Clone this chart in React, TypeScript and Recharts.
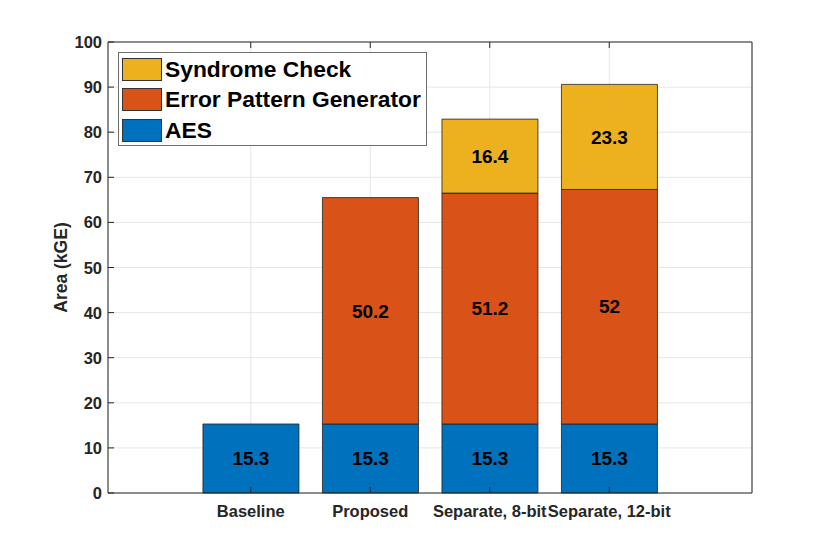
import { Bar, BarChart, CartesianGrid, LabelList, XAxis, YAxis } from "recharts";

const categories = ["Baseline", "Proposed", "Separate, 8-bit", "Separate, 12-bit"];
const aes = [15.3, 15.3, 15.3, 15.3];
const errorPattern = [null, 50.2, 51.2, 52];
const syndrome = [null, null, 16.4, 23.3];
const yTicks = [0, 10, 20, 30, 40, 50, 60, 70, 80, 90, 100];

const series = [
  { key: "syndrome", name: "Syndrome Check", color: "#EDB120" },
  { key: "errorPattern", name: "Error Pattern Generator", color: "#D95319" },
  { key: "aes", name: "AES", color: "#0072BD" },
];

const data = categories.map((name, i) => ({
  name,
  aes: aes[i],
  errorPattern: errorPattern[i],
  syndrome: syndrome[i],
}));

const FONT = '"Liberation Sans", Arial, Helvetica, sans-serif';
const AXIS = "#262626";
const TICK_LEN = 6;

function BottomTick({ x, y, payload }: any) {
  return (
    <g>
      <line x1={x} y1={y} x2={x} y2={y - TICK_LEN} stroke={AXIS} />
      <text x={x} y={y + 24} textAnchor="middle" fill={AXIS} fontSize={16.5} fontWeight="bold" fontFamily={FONT}>
        {payload.value}
      </text>
    </g>
  );
}

function TopTick({ x, y }: any) {
  return <line x1={x} y1={y} x2={x} y2={y + TICK_LEN} stroke={AXIS} />;
}

function LeftTick({ x, y, payload }: any) {
  return (
    <g>
      <line x1={x} y1={y} x2={x + TICK_LEN} y2={y} stroke={AXIS} />
      <text x={x - 6} y={y} dy={6} textAnchor="end" fill={AXIS} fontSize={16.5} fontWeight="bold" fontFamily={FONT}>
        {payload.value}
      </text>
    </g>
  );
}

function RightTick({ x, y }: any) {
  return <line x1={x} y1={y} x2={x - TICK_LEN} y2={y} stroke={AXIS} />;
}

function Legend() {
  return (
    <div
      style={{
        position: "absolute",
        left: 110,
        top: 44,
        width: 307,
        height: 92,
        border: "1px solid #6e6e6e",
        background: "#fff",
        fontFamily: FONT,
      }}
    >
      {series.map((s, i) => (
        <div key={s.key} style={{ position: "absolute", left: 3, top: 5 + i * 30.4, height: 23, display: "flex", alignItems: "center" }}>
          <div style={{ width: 38, height: 21, background: s.color, border: "1px solid #333" }} />
          <span style={{ marginLeft: 3, fontSize: 22.8, fontWeight: "bold", color: "#000", lineHeight: "23px", whiteSpace: "nowrap" }}>
            {s.name}
          </span>
        </div>
      ))}
    </div>
  );
}

export default function App() {
  return (
    <div style={{ position: "relative", width: 822, height: 546, fontFamily: FONT }}>
      <BarChart
        width={822}
        height={546}
        data={data}
        margin={{ top: 33, right: 70, bottom: 0, left: 40 }}
        barCategoryGap="10%"
      >
        <CartesianGrid stroke="#e6e6e6" />
        <XAxis
          dataKey="name"
          height={61}
          padding={{ left: 83, right: 83 }}
          interval={0}
          tickSize={0}
          tickMargin={0}
          axisLine={{ stroke: AXIS }}
          tickLine={false}
          tick={<BottomTick />}
        />
        <XAxis
          xAxisId="top"
          orientation="top"
          dataKey="name"
          height={1}
          padding={{ left: 83, right: 83 }}
          interval={0}
          tickSize={0}
          tickMargin={0}
          axisLine={{ stroke: AXIS }}
          tickLine={false}
          tick={<TopTick />}
        />
        <YAxis
          width={60}
          domain={[0, 100]}
          ticks={yTicks}
          interval={0}
          tickSize={0}
          tickMargin={0}
          axisLine={{ stroke: AXIS }}
          tickLine={false}
          tick={<LeftTick />}
          label={{
            content: ({ viewBox }: any) => (
              <text
                x={viewBox.x + 19}
                y={viewBox.y + viewBox.height / 2}
                transform={`rotate(-90 ${viewBox.x + 19} ${viewBox.y + viewBox.height / 2})`}
                textAnchor="middle"
                fill={AXIS}
                fontSize={17.5}
                fontWeight="bold"
                fontFamily={FONT}
              >
                Area (kGE)
              </text>
            ),
          }}
        />
        <YAxis
          yAxisId="right"
          orientation="right"
          width={8}
          domain={[0, 100]}
          ticks={yTicks}
          interval={0}
          tickSize={0}
          tickMargin={0}
          axisLine={{ stroke: AXIS }}
          tickLine={false}
          tick={<RightTick />}
        />
        {[...series].reverse().map((s) => (
          <Bar key={s.key} dataKey={s.key} name={s.name} stackId="a" fill={s.color} stroke="#222" strokeWidth={0.8} isAnimationActive={false}>
            <LabelList dataKey={s.key} position="center" fill="#000" fontSize={19} fontWeight="bold" fontFamily={FONT} />
          </Bar>
        ))}
      </BarChart>
      <Legend />
    </div>
  );
}
